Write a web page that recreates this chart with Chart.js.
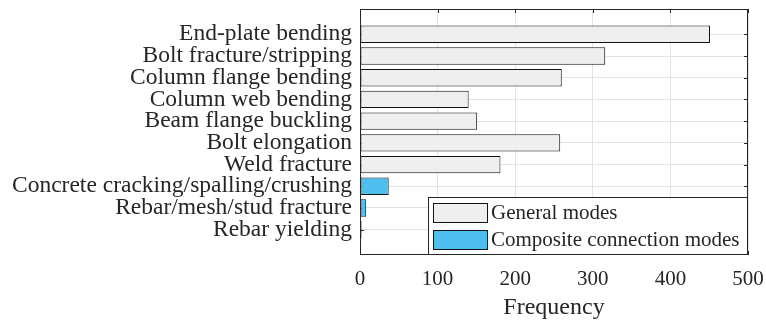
<!DOCTYPE html>
<html>
<head>
<meta charset="utf-8">
<style>
  html, body { margin: 0; padding: 0; background: #ffffff; }
  #wrap { width: 766px; height: 322px; }
</style>
<script src="https://cdn.jsdelivr.net/npm/chart.js@4/dist/chart.umd.min.js"></script>
</head>
<body>
<div id="wrap"><canvas id="chart" width="766" height="322"></canvas></div>
<script>
// Failure modes, listed top to bottom
const categories = [
  'End-plate bending',
  'Bolt fracture/stripping',
  'Column flange bending',
  'Column web bending',
  'Beam flange buckling',
  'Bolt elongation',
  'Weld fracture',
  'Concrete cracking/spalling/crushing',
  'Rebar/mesh/stud fracture',
  'Rebar yielding'
];
// Observed frequency per mode (null = not in that group)
const generalCounts   = [451, 316, 260, 140, 151, 258, 181, null, null, null];
const compositeCounts = [null, null, null, null, null, null, null, 37, 8, 2];
const seriesNames = ['General modes', 'Composite connection modes'];
const xTickValues = [0, 100, 200, 300, 400, 500];

const SERIF = "'Liberation Serif', 'Times New Roman', serif";
const INK = '#262626';

// Bars sit at integer positions 1..N on a linear category axis
function toPoints(values) {
  const pts = [];
  values.forEach((v, i) => { if (v !== null) pts.push({ x: v, y: i + 1 }); });
  return pts;
}

const barStyle = {
  borderColor: '#111111',
  borderWidth: 1,
  borderSkipped: false,
  barPercentage: 0.8,
  categoryPercentage: 1.0,
  grouped: false
};

// Box, inward tick marks and an in-plot legend
const framePlugin = {
  id: 'frame',
  beforeDatasetsDraw(chart) {
    const { ctx, chartArea: a, scales } = chart;
    ctx.save();
    ctx.strokeStyle = INK;
    ctx.lineWidth = 1;
    ctx.beginPath();
    const tl = 4;
    xTickValues.forEach(v => {
      const px = Math.round(scales.x.getPixelForValue(v)) + 0.5;
      ctx.moveTo(px, a.top); ctx.lineTo(px, a.top + tl);
      ctx.moveTo(px, a.bottom); ctx.lineTo(px, a.bottom - tl);
    });
    categories.forEach((_, i) => {
      const py = Math.round(scales.y.getPixelForValue(i + 1)) + 0.5;
      ctx.moveTo(a.left, py); ctx.lineTo(a.left + tl, py);
      ctx.moveTo(a.right, py); ctx.lineTo(a.right - tl, py);
    });
    ctx.stroke();
    ctx.restore();
  },
  afterDatasetsDraw(chart) {
    const { ctx, chartArea: a } = chart;
    ctx.save();
    ctx.strokeStyle = INK;
    ctx.lineWidth = 1;
    ctx.strokeRect(a.left + 0.5, a.top + 0.5, a.right - a.left - 1, a.bottom - a.top - 1);

    // legend, anchored to the lower right corner of the plot
    const w = 320, h = 58;
    const lx = a.right - w, ly = a.bottom - h;
    ctx.fillStyle = '#ffffff';
    ctx.fillRect(lx + 0.5, ly + 0.5, w - 1, h - 1);
    ctx.strokeStyle = INK;
    ctx.strokeRect(lx + 0.5, ly + 0.5, w - 1, h - 1);
    ctx.font = '21px ' + SERIF;
    ctx.textBaseline = 'middle';
    ctx.textAlign = 'left';
    chart.data.datasets.forEach((ds, k) => {
      const sy = ly + 6 + k * 27;
      ctx.fillStyle = ds.backgroundColor;
      ctx.fillRect(lx + 5.5, sy + 0.5, 54, 19);
      ctx.strokeStyle = '#111111';
      ctx.strokeRect(lx + 5.5, sy + 0.5, 54, 19);
      ctx.fillStyle = INK;
      ctx.fillText(ds.label, lx + 63, sy + 10);
    });
    ctx.restore();
  }
};

new Chart(document.getElementById('chart'), {
  type: 'bar',
  data: {
    datasets: [
      Object.assign({ label: seriesNames[0], data: toPoints(generalCounts), backgroundColor: '#efefef' }, barStyle),
      Object.assign({ label: seriesNames[1], data: toPoints(compositeCounts), backgroundColor: '#4dbeee' }, barStyle)
    ]
  },
  options: {
    indexAxis: 'y',
    responsive: false,
    animation: false,
    layout: { padding: { top: 9, right: 18, left: 0, bottom: 0 } },
    scales: {
      x: {
        type: 'linear',
        position: 'bottom',
        min: 0,
        max: 500,
        offset: false,
        afterBuildTicks(scale) { scale.ticks = xTickValues.map(v => ({ value: v })); },
        afterFit(scale) {
          scale.height = 67;
          scale.paddingLeft = 0;
          scale.paddingRight = 0;
        },
        grid: { color: '#e3e3e3', drawTicks: false, offset: false },
        border: { display: false },
        ticks: {
          color: INK,
          padding: 12,
          font: { family: SERIF, size: 21 }
        },
        title: {
          display: true,
          text: 'Frequency',
          color: INK,
          padding: { top: 0, bottom: 0 },
          font: { family: SERIF, size: 24 }
        }
      },
      y: {
        type: 'linear',
        reverse: true,
        min: -0.165,
        max: 11.165,
        offset: false,
        afterBuildTicks(scale) { scale.ticks = categories.map((_, i) => ({ value: i + 1 })); },
        afterFit(scale) {
          scale.width = 360;
          scale.paddingTop = 0;
          scale.paddingBottom = 0;
        },
        grid: { color: '#e3e3e3', drawTicks: false, offset: false },
        border: { display: false },
        ticks: {
          autoSkip: false,
          color: INK,
          padding: 8,
          font: { family: SERIF, size: 23.5 },
          callback: (v) => categories[v - 1]
        }
      }
    },
    plugins: {
      legend: { display: false },
      tooltip: { enabled: false }
    }
  },
  plugins: [framePlugin]
});
</script>
</body>
</html>
